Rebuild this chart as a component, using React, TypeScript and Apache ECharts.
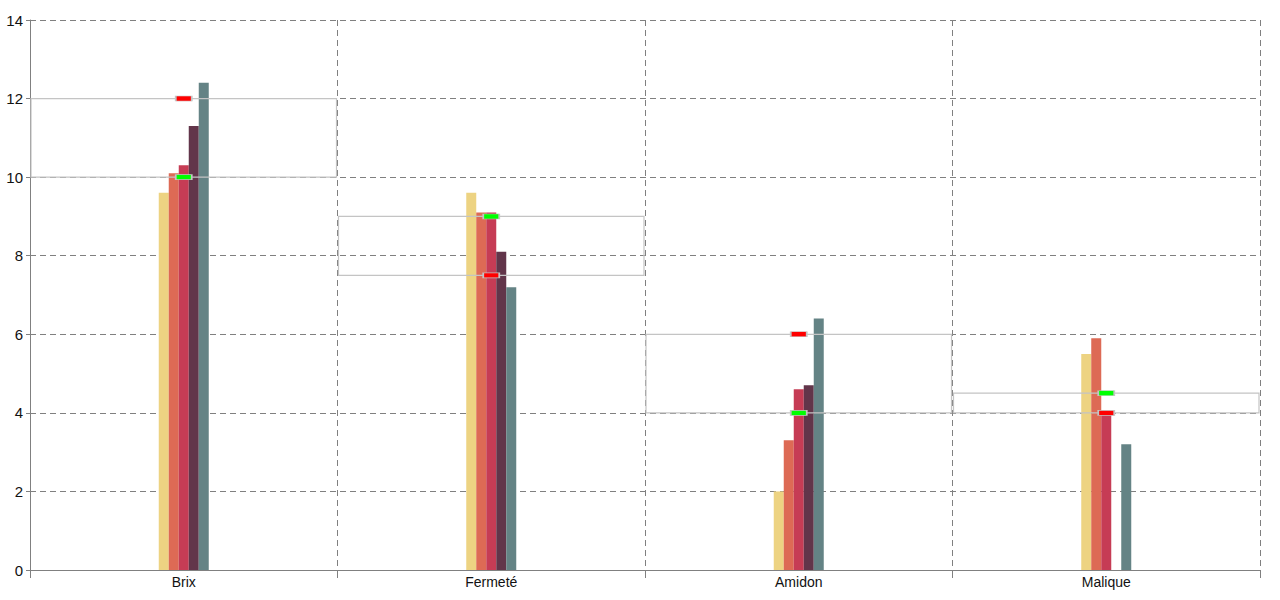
import React, { useEffect, useRef } from "react";
import * as echarts from "echarts";

const categories = ["Brix", "Fermeté", "Amidon", "Malique"];
const seriesNames = ["Série 1", "Série 2", "Série 3", "Série 4", "Série 5"];
const seriesColors = ["#EDD382", "#DD6A55", "#C63C55", "#62354A", "#648385"];
const seriesValues: (number | null)[][] = [
  [9.6, 9.6, 2.0, 5.5],
  [10.1, 9.1, 3.3, 5.9],
  [10.3, 9.1, 4.6, 3.95],
  [11.3, 8.1, 4.7, null],
  [12.4, 7.2, 6.4, 3.2],
];
const greenValues = [10, 9, 4, 4.5];
const redValues = [12, 7.5, 6, 4];
const yTicks = { min: 0, max: 14, interval: 2 };

export default function App() {
  const ref = useRef<HTMLDivElement>(null);
  useEffect(() => {
    if (!ref.current) return;
    const chart = echarts.init(ref.current, undefined, { renderer: "svg" });
    const bandData = categories.map((_, i) => [
      i,
      Math.min(greenValues[i], redValues[i]),
      Math.max(greenValues[i], redValues[i]),
    ]);
    const bars = seriesValues.map((vals, k) => ({
      type: "bar",
      name: seriesNames[k],
      data: vals,
      barWidth: 10,
      barGap: "0%",
      itemStyle: { color: seriesColors[k] },
      z: 2,
    }));
    chart.setOption({
      animation: false,
      grid: { left: 30, right: 20, top: 20, bottom: 30 },
      xAxis: {
        type: "category",
        data: categories,
        axisLine: { lineStyle: { color: "#808080" } },
        axisTick: { show: true, length: 8, lineStyle: { color: "#808080" } },
        axisLabel: { color: "#111", fontSize: 14, fontFamily: "Liberation Sans, Arial", margin: 5 },
        splitLine: { show: true, lineStyle: { color: "#808080", type: [6, 4] } },
      },
      yAxis: {
        type: "value",
        min: yTicks.min,
        max: yTicks.max,
        interval: yTicks.interval,
        axisLine: { show: true, lineStyle: { color: "#808080" } },
        axisTick: { show: true, length: 4, lineStyle: { color: "#808080" } },
        axisLabel: { color: "#111", fontSize: 15, fontFamily: "Liberation Sans, Arial", margin: 7 },
        splitLine: { show: true, lineStyle: { color: "#808080", type: [6, 4] } },
      },
      series: [
        ...bars,
        {
          type: "custom",
          name: "band",
          data: bandData,
          z: 3,
          renderItem: (params: any, api: any) => {
            const idx = api.value(0);
            const lo = api.coord([idx, api.value(1)]);
            const hi = api.coord([idx, api.value(2)]);
            const bw = api.size([1, 0])[0];
            return {
              type: "rect",
              shape: { x: lo[0] - bw / 2 + 1, y: hi[1], width: bw - 2, height: lo[1] - hi[1] },
              style: { fill: "none", stroke: "#c4c4c4", lineWidth: 1.2 },
            };
          },
        },
        {
          type: "scatter",
          name: "vert",
          data: greenValues,
          symbol: "rect",
          symbolSize: [16, 5],
          itemStyle: { color: "#00ff00", borderColor: "#c4c4c4", borderWidth: 1, opacity: 1 },
          z: 4,
        },
        {
          type: "scatter",
          name: "rouge",
          data: redValues,
          symbol: "rect",
          symbolSize: [16, 5],
          itemStyle: { color: "#ff0000", borderColor: "#c4c4c4", borderWidth: 1, opacity: 1 },
          z: 4,
        },
      ],
    });
    return () => chart.dispose();
  }, []);
  return (
    <div
      ref={ref}
      style={{ position: "fixed", left: 0, top: 0, width: 1280, height: 600, background: "#fff" }}
    />
  );
}
